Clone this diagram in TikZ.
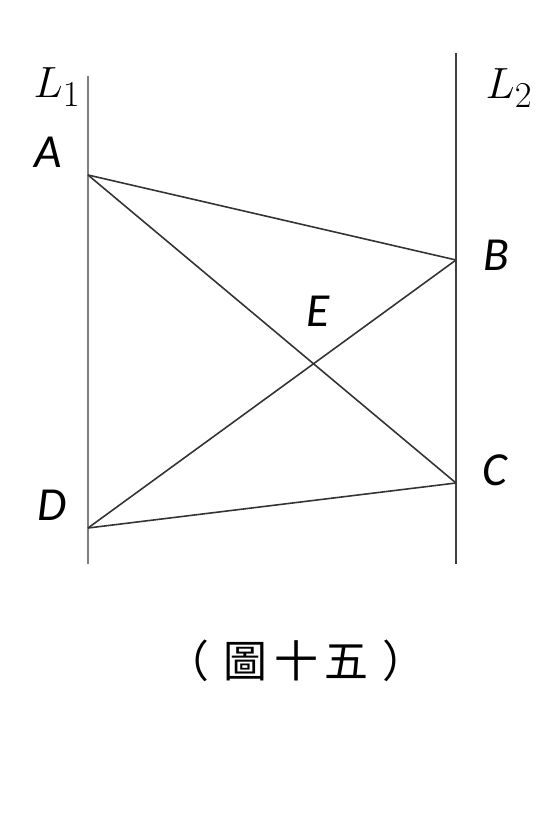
\documentclass[tikz,border=0pt]{standalone}
\usepackage{fontspec}
\setsansfont{Carlito}
\newfontfamily\cjk{Noto Sans CJK TC}
\usetikzlibrary{positioning}

\tikzset{
    pointlabel/.style={font=\sffamily\itshape\fontsize{27}{27}\selectfont, inner sep=0pt},
    linelabel/.style={font=\fontsize{31}{31}\selectfont, inner sep=0pt},
    parallel/.style={line width=1pt, draw=black!75},
    segment/.style={line width=0.9pt, draw=black!80}
}

\begin{document}
\begin{tikzpicture}[x=0.02cm, y=-0.02cm]
        \useasboundingbox (0,0) rectangle (555,827);

        % the two parallel lines
        \coordinate (l1top) at (88,76);
        \coordinate (l1bot) at (88,564);
        \coordinate (l2top) at (456,53);
        \coordinate (l2bot) at (456,564);

        \coordinate (A) at (88,175);
        \coordinate (B) at (456,260);
        \coordinate (C) at (456,483);
        \coordinate (D) at (88,528);
        \coordinate (E) at (intersection of A--C and B--D);

        \draw[parallel, line width=1.3pt, draw=black!50] (l1top) -- (l1bot);
        \draw[parallel] (l2top) -- (l2bot);

        \draw[segment] (A) -- (B);
        \draw[segment] (A) -- (C);
        \draw[segment] (D) -- (B);
        \draw[segment] (D) -- (C);

        \node (nL1) [linelabel] at (57,87) {$L_1$};
        \node (nL2) [linelabel] at (509,88) {$L_2$};
        \node (nA) [pointlabel] at (48,152) {A};
        \node (nB) [pointlabel] at (496,255) {B};
        \node (nC) [pointlabel] at (495,470) {C};
        \node (nD) [pointlabel] at (52,505) {D};
        \node (nE) [pointlabel] at (318,311) {E};

        \node (caption) at (296,661) {\cjk\fontsize{25}{25}\selectfont （\hspace{8pt}圖\hspace{4pt}十\hspace{4pt}五\hspace{8pt}）};

    \end{tikzpicture}
\end{document}
